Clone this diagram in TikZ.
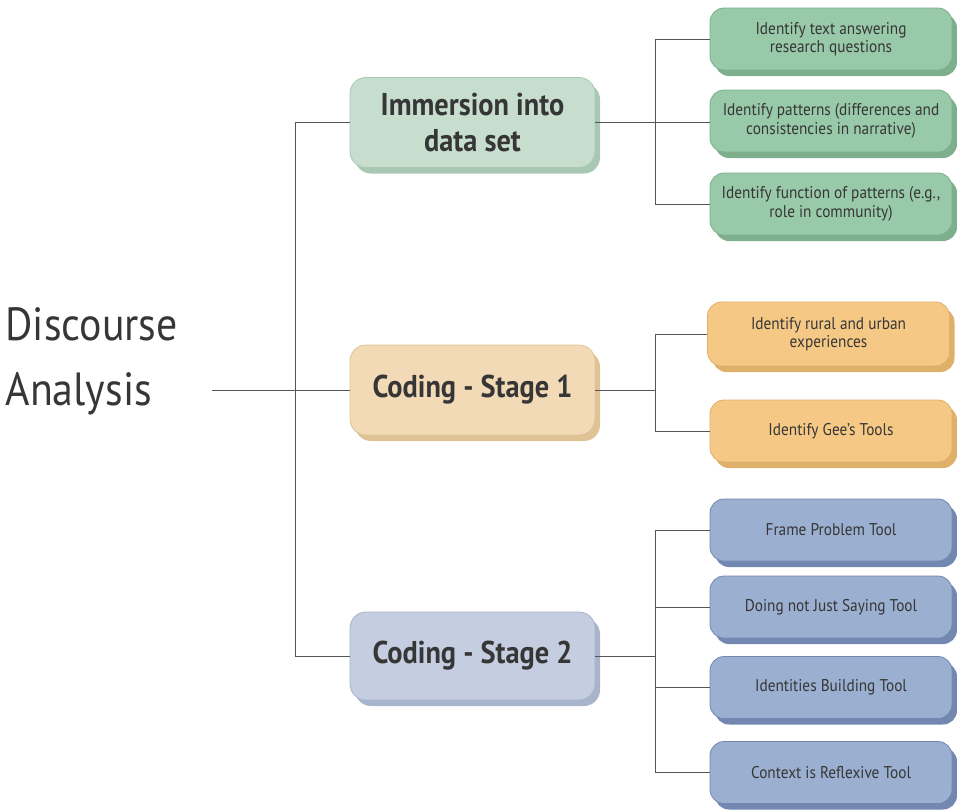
\documentclass[tikz,border=0pt]{standalone}
\usepackage{fontspec}
\setmainfont{PT Sans}[FakeStretch=0.9]
\usetikzlibrary{shadows}

\definecolor{ink}{HTML}{363636}
\definecolor{wire}{HTML}{555555}
\definecolor{grnmain}{HTML}{C7DECF}
\definecolor{grnmainsh}{HTML}{A9C8B4}
\definecolor{grnsub}{HTML}{98C9A8}
\definecolor{grnsubsh}{HTML}{7DAF8D}
\definecolor{orgmain}{HTML}{F3DAB6}
\definecolor{orgmainsh}{HTML}{DFC394}
\definecolor{orgsub}{HTML}{F5C985}
\definecolor{orgsubsh}{HTML}{DEB06A}
\definecolor{blumain}{HTML}{C5CEE0}
\definecolor{blumainsh}{HTML}{A8B4CB}
\definecolor{blusub}{HTML}{9BAFD1}
\definecolor{blusubsh}{HTML}{7288B1}

\tikzset{
  link/.style={draw=wire, line width=0.9pt},
  mainbox/.style={rounded corners=16pt, minimum width=245pt, minimum height=90pt,
    align=center, text=ink, font=\bfseries\fontsize{31.5}{36}\selectfont},
  subbox/.style={rounded corners=14pt, minimum width=242pt, minimum height=62pt,
    align=center, text=ink, font=\fontsize{17}{18.5}\selectfont},
  tint/.style 2 args={fill=#1, draw=#2, line width=0.8pt,
    drop shadow={shadow xshift=5pt, shadow yshift=-6pt, fill=#2, opacity=1}}
}

\begin{document}
\begin{tikzpicture}[x=1pt,y=-1pt]
\useasboundingbox (0,0) rectangle (957,811);

\node[anchor=west, align=left, text=ink, font=\fontsize{46.5}{65}\selectfont]
  (da) at (2,361) {Discourse\\Analysis};

% stages
\node[mainbox, tint={grnmain}{grnmainsh}] (imm) at (472.5,122.5) {Immersion into\\data set};
\node[mainbox, tint={orgmain}{orgmainsh}] (cod1) at (472.5,390) {Coding - Stage 1};
\node[mainbox, tint={blumain}{blumainsh}, minimum height=88pt] (cod2) at (472.5,656) {Coding - Stage 2};

% immersion steps
\node[subbox, tint={grnsub}{grnsubsh}] (g1) at (831,39) {Identify text answering\\research questions};
\node[subbox, tint={grnsub}{grnsubsh}] (g2) at (831,121) {Identify patterns (differences and\\consistencies in narrative)};
\node[subbox, tint={grnsub}{grnsubsh}] (g3) at (831,204) {Identify function of patterns (e.g.,\\role in community)};

% stage 1 steps
\node[subbox, tint={orgsub}{orgsubsh}, minimum height=64pt] (o1) at (828.5,334) {Identify rural and urban\\experiences};
\node[subbox, tint={orgsub}{orgsubsh}] (o2) at (831,431) {Identify Gee's Tools};

% stage 2 tools
\node[subbox, tint={blusub}{blusubsh}] (b1) at (831,530) {Frame Problem Tool};
\node[subbox, tint={blusub}{blusubsh}] (b2) at (831,607) {Doing not Just Saying Tool};
\node[subbox, tint={blusub}{blusubsh}] (b3) at (831,687.5) {Identities Building Tool};
\node[subbox, tint={blusub}{blusubsh}] (b4) at (831,772.5) {Context is Reflexive Tool};

% connectors
\coordinate (daout) at (212,390);
\coordinate (jl) at (295.5,390);
\coordinate (jg) at (655.5,122.5);
\coordinate (jo) at (655.5,390);
\coordinate (jb) at (655.5,656);

\draw[link] (daout) -- (cod1.west);
\draw[link] (imm.west) -| (jl) |- (cod2.west);

\draw[link] (imm.east) -- (jg);
\draw[link] (g1.west) -| (jg) |- (g3.west);
\draw[link] (jg) -- (g2.west |- jg);

\draw[link] (cod1.east) -- (jo);
\draw[link] (o1.west) -| (jo) |- (o2.west);

\draw[link] (cod2.east) -- (jb);
\draw[link] (b1.west) -| (jb) |- (b4.west);
\draw[link] (b2.west) -| (jb);
\draw[link] (b3.west) -| (jb);

\end{tikzpicture}
\end{document}
